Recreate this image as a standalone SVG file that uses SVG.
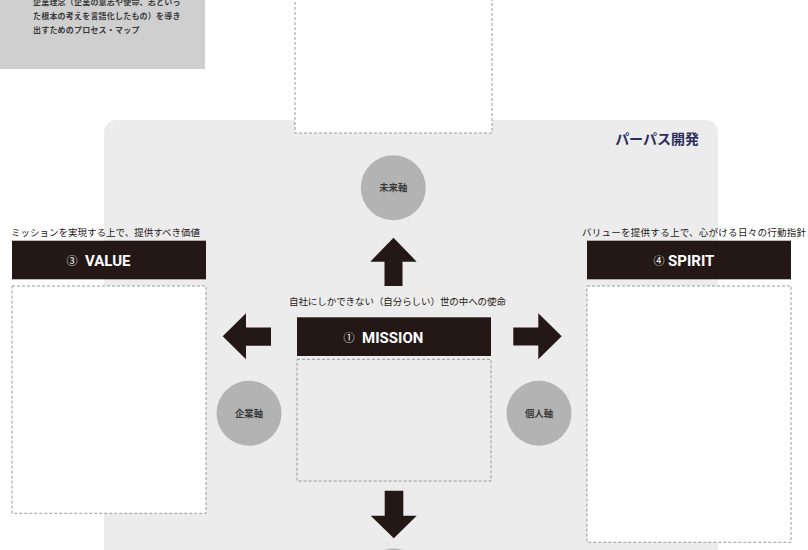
<svg xmlns="http://www.w3.org/2000/svg" width="808" height="550" viewBox="0 0 808 550">
<style>
.jp{font-family:"Noto Sans CJK JP","Noto Sans",sans-serif;}
.lbl{font-size:9.5px;fill:#231815;}
.intro{font-size:8px;font-weight:bold;fill:#3a3a3a;letter-spacing:0.2px;}
.dash{fill:#ffffff;stroke:#8f8f8f;stroke-width:0.9;stroke-dasharray:3 2;}
.dashg{fill:none;stroke:#8f8f8f;stroke-width:0.9;stroke-dasharray:3 2;}
.bar{fill:#231815;}
.en{font-family:Roboto,"Liberation Sans",sans-serif;font-weight:bold;font-size:15px;fill:#ffffff;}
.num{font-family:"Noto Sans CJK JP","DejaVu Sans",sans-serif;font-size:11px;fill:#ffffff;}
.axis{fill:#b3b3b3;}
.axt{font-size:9.4px;font-weight:bold;fill:#3a3a3a;}
.arrow{fill:#231815;}
</style>
<rect width="808" height="550" fill="#ffffff"/>
<g id="intro">
<rect x="0" y="-2" width="205" height="71" fill="#cfcfcf"/>
<text class="jp intro" x="33" y="5">企業理念（企業の意志や使命、志といっ</text>
<text class="jp intro" x="33" y="19">た根本の考えを言語化したもの）を導き</text>
<text class="jp intro" x="33" y="32.5">出すためのプロセス・マップ</text>
</g>
<g id="panel">
<rect x="104" y="120" width="614" height="450" rx="12" fill="#ececec"/>
<text class="jp" x="699" y="144" text-anchor="end" font-size="14" font-weight="bold" fill="#2b2d5a">パーパス開発</text>
</g>
<g id="top-box">
<rect class="dash" x="295" y="-5" width="197" height="138"/>
</g>
<g id="connectors">
<polygon class="arrow" points="393.5,237.7 416.7,261.7 402.5,261.7 402.5,286 384.5,286 384.5,261.7 370.3,261.7"/>
<polygon class="arrow" points="222.7,336.3 246,313.3 246,327.6 271,327.6 271,345.8 246,345.8 246,359.3"/>
<polygon class="arrow" points="561.7,336.3 538.3,313.3 538.3,327.4 513.3,327.4 513.3,345.6 538.3,345.6 538.3,359.3"/>
<polygon class="arrow" points="384.7,490.7 403.3,490.7 403.3,515.7 416.7,515.7 393.8,538.3 370.7,515.7 384.7,515.7"/>
</g>
<g id="axis-future">
<circle class="axis" cx="393.3" cy="187.7" r="32.5"/>
<text class="jp axt" x="393.3" y="191" text-anchor="middle">未来軸</text>
</g>
<g id="axis-company">
<circle class="axis" cx="249" cy="413.3" r="32.5"/>
<text class="jp axt" x="249" y="416.6" text-anchor="middle">企業軸</text>
</g>
<g id="axis-personal">
<circle class="axis" cx="539" cy="413.3" r="32.5"/>
<text class="jp axt" x="539" y="416.6" text-anchor="middle">個人軸</text>
</g>
<g id="axis-bottom">
<circle class="axis" cx="393.5" cy="581" r="32.5"/>
</g>
<g id="mission">
<text class="jp lbl" x="289" y="305" textLength="217" lengthAdjust="spacing">自社にしかできない（自分らしい）世の中への使命</text>
<rect class="bar" x="297" y="317.3" width="194" height="38.7"/>
<text class="num" x="349" y="341.5" text-anchor="middle">①</text>
<text class="en" x="362" y="342.8">MISSION</text>
<rect class="dashg" x="297" y="359.3" width="194" height="121.7"/>
</g>
<g id="value">
<text class="jp lbl" x="11" y="236" textLength="189" lengthAdjust="spacing">ミッションを実現する上で、提供すべき価値</text>
<rect class="bar" x="12" y="240.7" width="194" height="38.6"/>
<text class="num" x="72" y="265" text-anchor="middle">③</text>
<text class="en" x="85" y="266.2">VALUE</text>
<rect class="dash" x="12" y="286" width="194" height="227.3"/>
</g>
<g id="spirit">
<text class="jp lbl" x="582" y="236" textLength="224" lengthAdjust="spacing">バリューを提供する上で、心がける日々の行動指針</text>
<rect class="bar" x="587" y="240.7" width="204" height="38.6"/>
<text class="num" x="659" y="265" text-anchor="middle">④</text>
<text class="en" x="668" y="266.2">SPIRIT</text>
<rect class="dash" x="587" y="286" width="204" height="256.3"/>
</g>
</svg>
